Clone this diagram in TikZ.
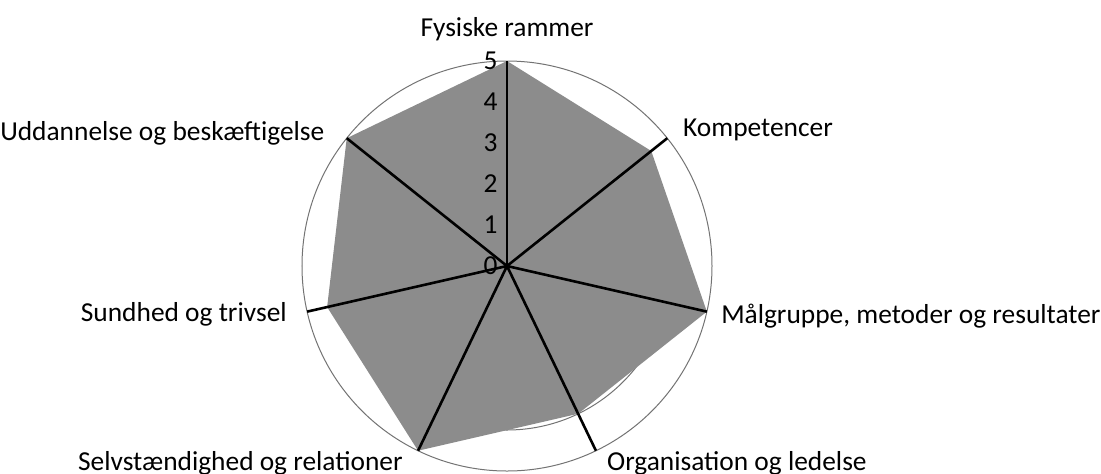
\documentclass[tikz,border=0pt]{standalone}
\usepackage{fontspec}
\setmainfont{Carlito}

\tikzset{
  gridring/.style={draw=black!55,line width=0.5pt},
  spoke/.style={draw=black,line width=1.3pt},
  area/.style={fill=black!45},
  ticklabel/.style={anchor=east,inner sep=0pt},
  axislabel/.style={inner sep=0pt}
}

\begin{document}
\begin{tikzpicture}[x=0.5pt,y=0.5pt,font=\fontsize{13.7}{16}\selectfont]
    \useasboundingbox (-507,-207) rectangle (594,266);
    \coordinate (o) at (0,0);
    % spoke ends, value 5
    \coordinate (fys) at (90:205);
    \coordinate (kom) at (38.57:205);
    \coordinate (maal) at (-12.86:205);
    \coordinate (org) at (-64.29:205);
    \coordinate (selv) at (-115.71:205);
    \coordinate (sund) at (-167.14:205);
    \coordinate (udd) at (141.43:205);
    % rings 1-4 and outer ring
    \draw[gridring] (o) circle (41);
    \draw[gridring] (o) circle (82);
    \draw[gridring] (o) circle (123);
    \draw[gridring] (o) circle (164);
    % values
    \path[area] (90:205) -- (38.57:184.5) -- (-12.86:205) -- (-64.29:164)
        -- (-115.71:205) -- (-167.14:184.5) -- (141.43:205) -- cycle;
    \draw[gridring] (o) circle (205);
    \path[spoke] (o) edge (fys);
    \path[spoke] (o) edge (kom);
    \path[spoke] (o) edge (maal);
    \path[spoke] (o) edge (org);
    \path[spoke] (o) edge (selv);
    \path[spoke] (o) edge (sund);
    \path[spoke] (o) edge (udd);
    % scale
    \node[ticklabel] (t0) at (-9,0) {0};
    \node[ticklabel] (t1) at (-9,41) {1};
    \node[ticklabel] (t2) at (-9,82) {2};
    \node[ticklabel] (t3) at (-9,123) {3};
    \node[ticklabel] (t4) at (-9,164) {4};
    \node[ticklabel] (t5) at (-9,205) {5};
    % axis names (shifts in pt)
    \node[axislabel,anchor=base] (lfys) at ([yshift=12.5pt]fys) {Fysiske rammer};
    \node[axislabel,anchor=base west] (lkom) at ([xshift=7.75pt,yshift=0.75pt]kom) {Kompetencer};
    \node[axislabel,anchor=base west] (lmaal) at ([xshift=7pt,yshift=-5.7pt]maal) {Målgruppe, metoder og resultater};
    \node[axislabel,anchor=base west] (lorg) at ([xshift=5.4pt,yshift=-9.7pt]org) {Organisation og ledelse};
    \node[axislabel,anchor=base east] (lselv) at ([xshift=-7.5pt,yshift=-9.7pt]selv) {Selvstændighed og relationer};
    \node[axislabel,anchor=base east] (lsund) at ([xshift=-10pt,yshift=-5pt]sund) {Sundhed og trivsel};
    \node[axislabel,anchor=base east] (ludd) at ([xshift=-11pt,yshift=-1pt]udd) {Uddannelse og beskæftigelse};
\end{tikzpicture}
\end{document}
